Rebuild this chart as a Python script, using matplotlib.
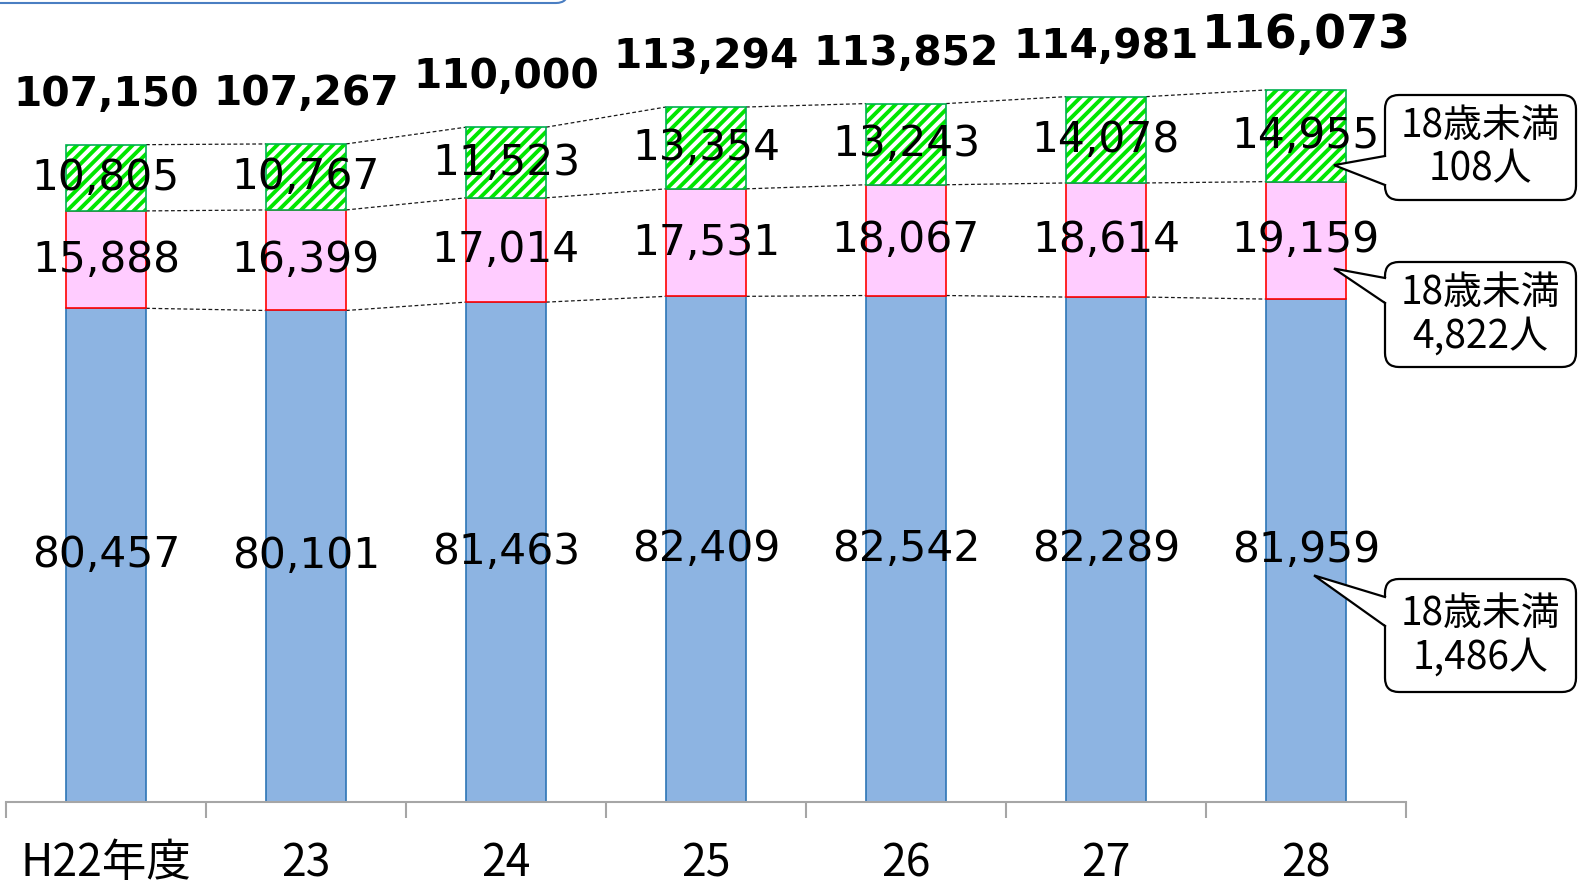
import numpy as np
import matplotlib
matplotlib.use("Agg")
import matplotlib.pyplot as plt
from matplotlib.patches import FancyBboxPatch, Polygon

# data
years = ['H22年度', '23', '24', '25', '26', '27', '28']
blue = [80457, 80101, 81463, 82409, 82542, 82289, 81959]
pink = [15888, 16399, 17014, 17531, 18067, 18614, 19159]
green = [10805, 10767, 11523, 13354, 13243, 14078, 14955]
totals = [107150, 107267, 110000, 113294, 113852, 114981, 116073]
callouts = ['18歳未満\n108人', '18歳未満\n4,822人', '18歳未満\n1,486人']

plt.rcParams['font.family'] = ['DejaVu Sans']
plt.rcParams['hatch.linewidth'] = 2.8
jp = ['Noto Sans CJK JP', 'DejaVu Sans']

W, H = 1578, 889
fig = plt.figure(figsize=(W / 100, H / 100), dpi=100)
ax = fig.add_axes([6 / W, 1 - 801.5 / H, 1400 / W, 801.5 / H])
inch = fig.dpi_scale_trans


def px(xp, yp):
    # pixel position measured from the top-left corner -> inches
    return xp / 100, (H - yp) / 100


x = np.arange(len(years))
w = 0.4
blue = np.array(blue)
pink = np.array(pink)
green = np.array(green)
mid = blue + pink
last = len(x) - 1

ax.set_xlim(-0.5, len(x) - 0.5)
ax.set_ylim(0, 130750)

ax.bar(x, blue, w, color='#8DB4E2', edgecolor='#2E75B6', lw=1.2, zorder=2)
ax.bar(x, pink, w, bottom=blue, color='#FFCCFF', edgecolor='#FF0000', lw=1.2, zorder=2)
ax.bar(x, green, w, bottom=mid, color='white', edgecolor='#00E600', hatch='///', lw=0, zorder=2)
ax.bar(x, green, w, bottom=mid, fill=False, edgecolor='#00B050', lw=1.2, zorder=2)

# dashed connectors between neighbouring bars
for lev in (blue, mid, mid + green):
    for i in range(len(x) - 1):
        ax.plot([x[i] + w / 2, x[i + 1] - w / 2], [lev[i], lev[i + 1]],
                ls=(0, (3, 2)), lw=0.9, color='#1a1a1a', zorder=1)

# segment labels and totals
for i in range(len(x)):
    ax.text(x[i], blue[i] / 2, f'{blue[i]:,}', ha='center', va='center', fontsize=30.5, zorder=4)
    ax.text(x[i], blue[i] + pink[i] / 2, f'{pink[i]:,}', ha='center', va='center', fontsize=30.5, zorder=4)
    ax.text(x[i], mid[i] + green[i] / 2, f'{green[i]:,}', ha='center', va='center', fontsize=30.5, zorder=4)
    ax.annotate(f'{totals[i]:,}', (x[i], totals[i]), xytext=(0, 30 if i == last else 28),
                textcoords='offset points', ha='center', va='baseline',
                fontsize=33 if i == last else 29.3, fontweight='bold', annotation_clip=False)

# callouts on the last bar: tip inside a segment, box to the right of the axes
tips = [(x[last] + 0.14, mid[last] + 0.18 * green[last]),
        (x[last] + 0.14, blue[last] + 0.26 * pink[last]),
        (x[last] + 0.04, 0.45 * blue[last])]
box_rows = [(95, 200), (262, 367), (579, 692)]
base_rows = [(156, 185), (278, 303), (597, 626)]
bx0, bx1 = 1385, 1576
for txt, tip, (top, bot), (b0, b1) in zip(callouts, tips, box_rows, base_rows):
    x0, y0 = px(bx0, bot)
    ax.add_patch(FancyBboxPatch((x0, y0), (bx1 - bx0) / 100, (bot - top) / 100,
                                boxstyle='round,pad=0,rounding_size=0.14', transform=inch,
                                fc='white', ec='black', lw=1.6, zorder=5, clip_on=False))
    tip_in = inch.inverted().transform(ax.transData.transform(tip))
    ax.add_patch(Polygon([px(bx0 + 2, b0), tip_in, px(bx0 + 2, b1)], closed=True, transform=inch,
                         fc='white', ec='none', zorder=6, clip_on=False))
    pts = np.array([px(bx0, b0), tip_in, px(bx0, b1)])
    ax.plot(pts[:, 0], pts[:, 1], color='black', lw=1.6, transform=inch, clip_on=False,
            zorder=6, solid_joinstyle='miter')
    cx, cy = px((bx0 + bx1) / 2, (top + bot) / 2)
    ax.text(cx, cy, txt, transform=inch, ha='center', va='center', fontsize=28,
            family=jp, linespacing=1.12, zorder=7)

ax.set_yticks([])
for s in ('left', 'right', 'top'):
    ax.spines[s].set_visible(False)
ax.spines['bottom'].set_color('#A6A6A6')
ax.spines['bottom'].set_linewidth(1.5)

ax.set_xticks(x, years)
ax.set_xticks(np.arange(-0.5, len(x), 1), minor=True)
ax.tick_params(axis='x', which='major', length=0, pad=28, labelsize=32)
ax.tick_params(axis='x', which='minor', length=11.5, width=1.5, color='#A6A6A6')
for lab in ax.get_xticklabels():
    lab.set_family(jp)

ax.set_xlim(-0.5, len(x) - 0.5)
ax.set_ylim(0, 130750)

# edge of the title frame above the chart
frame = FancyBboxPatch((-0.3, 8.86), 5.98, 1.0, boxstyle='round,pad=0,rounding_size=0.12',
                       transform=inch, fc='none', ec='#4A7EC2', lw=1.5, clip_on=False)
fig.patches.append(frame)

fig.savefig('out.png', dpi=100)
